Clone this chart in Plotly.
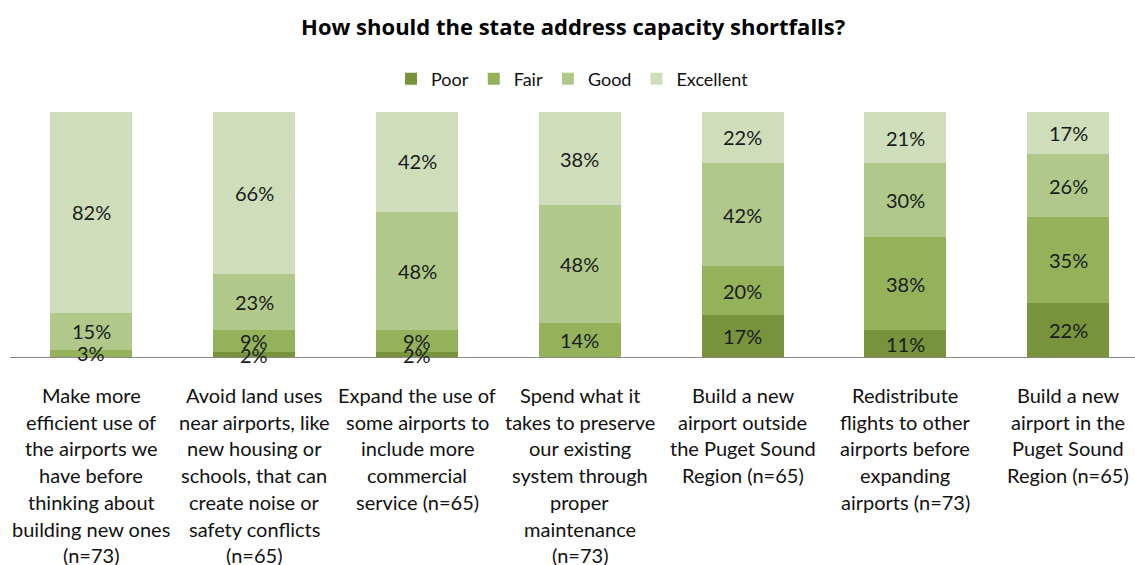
import plotly.graph_objects as go

# Response options, each wrapped onto its display lines
categories = [
    ["Make more", "efficient use of", "the airports we", "have before", "thinking about", "building new ones", "(n=73)"],
    ["Avoid land uses", "near airports, like", "new housing or", "schools, that can", "create noise or", "safety conflicts", "(n=65)"],
    ["Expand the use of", "some airports to", "include more", "commercial", "service (n=65)"],
    ["Spend what it", "takes to preserve", "our existing", "system through", "proper", "maintenance", "(n=73)"],
    ["Build a new", "airport outside", "the Puget Sound", "Region (n=65)"],
    ["Redistribute", "flights to other", "airports before", "expanding", "airports (n=73)"],
    ["Build a new", "airport in the", "Puget Sound", "Region (n=65)"],
]

poor = [0, 2, 2, 0, 17, 11, 22]
fair = [3, 9, 9, 14, 20, 38, 35]
good = [15, 23, 48, 48, 42, 30, 26]
excellent = [82, 66, 42, 38, 22, 21, 17]

series_names = ["Poor", "Fair", "Good", "Excellent"]
series_colors = ["#77933C", "#94B25A", "#B0C98A", "#CFDDBB"]

FONT = "Lato"
keys = ["<br>".join(c) for c in categories]

fig = go.Figure()
base = [0] * len(keys)
for name, vals, color in zip(series_names, [poor, fair, good, excellent], series_colors):
    fig.add_trace(go.Bar(
        name=name,
        x=keys,
        y=vals,
        marker=dict(color=color, line=dict(width=0)),
        hoverinfo="skip",
    ))
    # Percentage label centred on each non-empty segment
    for j, (key, v) in enumerate(zip(keys, vals)):
        if v > 0:
            fig.add_annotation(
                x=key, xref="x", y=base[j] + v / 2, yref="y",
                text=f"{v}%", showarrow=False,
                xanchor="center", yanchor="middle",
                font=dict(family=FONT, size=20, color="#1a1a1a"),
            )
        base[j] += v

# Wrapped category labels under the axis, one line at a time
for key, lines in zip(keys, categories):
    for i, line in enumerate(lines):
        fig.add_annotation(
            x=key, xref="x", y=0, yref="paper",
            text=line, showarrow=False,
            yanchor="middle", xanchor="center",
            yshift=-(38 + i * 26.7),
            font=dict(family=FONT, size=20, color="#111111"),
        )

fig.update_layout(
    width=1135, height=565,
    barmode="stack",
    bargap=0.496,
    plot_bgcolor="white", paper_bgcolor="white",
    margin=dict(l=10, r=0, t=112, b=208),
    title=dict(
        text="<b>How should the state address capacity shortfalls?</b>",
        x=0.505, xanchor="center", y=1 - 27 / 565, yanchor="middle",
        font=dict(family="Open Sans", size=22, color="#000000"),
    ),
    legend=dict(
        orientation="h", x=0.5, xanchor="center", y=1.135, yanchor="middle",
        font=dict(family=FONT, size=18, color="#111111"),
        traceorder="normal", itemwidth=30,
    ),
    xaxis=dict(
        showticklabels=False, showline=True, linecolor="#888888", linewidth=1,
        ticks="", range=[-0.5, 6.41], showgrid=False,
    ),
    yaxis=dict(range=[0, 100], visible=False, showgrid=False),
    showlegend=True,
)

fig.write_html("out.html")
